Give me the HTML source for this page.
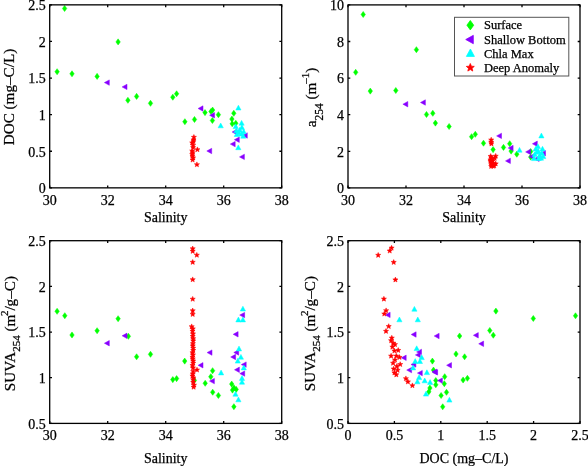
<!DOCTYPE html><html><head><meta charset="utf-8"><style>html,body{margin:0;padding:0;background:#fff;width:588px;height:466px;overflow:hidden}</style></head><body><svg width="588" height="466" viewBox="0 0 588 466" style="position:absolute;left:0;top:0;will-change:transform" font-family="'Liberation Serif', serif" font-size="14" stroke="#000" stroke-width="0.25">
<path d="M64.60 5.45L66.80 8.50L64.60 11.55L62.40 8.50Z" fill="#00ff00" stroke="#00ff00" stroke-width="0.5"/>
<path d="M118.10 38.85L120.30 41.90L118.10 44.95L115.90 41.90Z" fill="#00ff00" stroke="#00ff00" stroke-width="0.5"/>
<path d="M57.10 68.65L59.30 71.70L57.10 74.75L54.90 71.70Z" fill="#00ff00" stroke="#00ff00" stroke-width="0.5"/>
<path d="M72.00 70.75L74.20 73.80L72.00 76.85L69.80 73.80Z" fill="#00ff00" stroke="#00ff00" stroke-width="0.5"/>
<path d="M97.10 73.35L99.30 76.40L97.10 79.45L94.90 76.40Z" fill="#00ff00" stroke="#00ff00" stroke-width="0.5"/>
<path d="M127.90 97.25L130.10 100.30L127.90 103.35L125.70 100.30Z" fill="#00ff00" stroke="#00ff00" stroke-width="0.5"/>
<path d="M136.60 93.35L138.80 96.40L136.60 99.45L134.40 96.40Z" fill="#00ff00" stroke="#00ff00" stroke-width="0.5"/>
<path d="M150.50 100.25L152.70 103.30L150.50 106.35L148.30 103.30Z" fill="#00ff00" stroke="#00ff00" stroke-width="0.5"/>
<path d="M172.80 94.15L175.00 97.20L172.80 100.25L170.60 97.20Z" fill="#00ff00" stroke="#00ff00" stroke-width="0.5"/>
<path d="M176.60 90.75L178.80 93.80L176.60 96.85L174.40 93.80Z" fill="#00ff00" stroke="#00ff00" stroke-width="0.5"/>
<path d="M184.90 118.65L187.10 121.70L184.90 124.75L182.70 121.70Z" fill="#00ff00" stroke="#00ff00" stroke-width="0.5"/>
<path d="M194.50 116.45L196.70 119.50L194.50 122.55L192.30 119.50Z" fill="#00ff00" stroke="#00ff00" stroke-width="0.5"/>
<path d="M205.00 109.55L207.20 112.60L205.00 115.65L202.80 112.60Z" fill="#00ff00" stroke="#00ff00" stroke-width="0.5"/>
<path d="M211.00 108.45L213.20 111.50L211.00 114.55L208.80 111.50Z" fill="#00ff00" stroke="#00ff00" stroke-width="0.5"/>
<path d="M212.60 107.05L214.80 110.10L212.60 113.15L210.40 110.10Z" fill="#00ff00" stroke="#00ff00" stroke-width="0.5"/>
<path d="M218.40 111.65L220.60 114.70L218.40 117.75L216.20 114.70Z" fill="#00ff00" stroke="#00ff00" stroke-width="0.5"/>
<path d="M212.40 117.45L214.60 120.50L212.40 123.55L210.20 120.50Z" fill="#00ff00" stroke="#00ff00" stroke-width="0.5"/>
<path d="M233.80 110.25L236.00 113.30L233.80 116.35L231.60 113.30Z" fill="#00ff00" stroke="#00ff00" stroke-width="0.5"/>
<path d="M231.90 116.05L234.10 119.10L231.90 122.15L229.70 119.10Z" fill="#00ff00" stroke="#00ff00" stroke-width="0.5"/>
<path d="M232.20 120.75L234.40 123.80L232.20 126.85L230.00 123.80Z" fill="#00ff00" stroke="#00ff00" stroke-width="0.5"/>
<path d="M235.80 120.25L238.00 123.30L235.80 126.35L233.60 123.30Z" fill="#00ff00" stroke="#00ff00" stroke-width="0.5"/>
<path d="M104.40 82.60L109.30 79.90L109.30 85.30Z" fill="#8800ff" stroke="#8800ff" stroke-width="0.5"/>
<path d="M122.10 86.90L127.00 84.20L127.00 89.60Z" fill="#8800ff" stroke="#8800ff" stroke-width="0.5"/>
<path d="M198.10 108.50L203.00 105.80L203.00 111.20Z" fill="#8800ff" stroke="#8800ff" stroke-width="0.5"/>
<path d="M209.60 115.30L214.50 112.60L214.50 118.00Z" fill="#8800ff" stroke="#8800ff" stroke-width="0.5"/>
<path d="M206.80 151.00L211.70 148.30L211.70 153.70Z" fill="#8800ff" stroke="#8800ff" stroke-width="0.5"/>
<path d="M232.10 132.00L237.00 129.30L237.00 134.70Z" fill="#8800ff" stroke="#8800ff" stroke-width="0.5"/>
<path d="M242.40 135.50L247.30 132.80L247.30 138.20Z" fill="#8800ff" stroke="#8800ff" stroke-width="0.5"/>
<path d="M234.40 139.70L239.30 137.00L239.30 142.40Z" fill="#8800ff" stroke="#8800ff" stroke-width="0.5"/>
<path d="M230.30 144.10L235.20 141.40L235.20 146.80Z" fill="#8800ff" stroke="#8800ff" stroke-width="0.5"/>
<path d="M239.50 156.90L244.40 154.20L244.40 159.60Z" fill="#8800ff" stroke="#8800ff" stroke-width="0.5"/>
<path d="M220.70 123.00L223.30 127.80L218.10 127.80Z" fill="#00ffff" stroke="#00ffff" stroke-width="0.5"/>
<path d="M238.40 105.20L241.00 110.00L235.80 110.00Z" fill="#00ffff" stroke="#00ffff" stroke-width="0.5"/>
<path d="M241.60 120.40L244.20 125.20L239.00 125.20Z" fill="#00ffff" stroke="#00ffff" stroke-width="0.5"/>
<path d="M235.70 123.80L238.30 128.60L233.10 128.60Z" fill="#00ffff" stroke="#00ffff" stroke-width="0.5"/>
<path d="M241.90 124.80L244.50 129.60L239.30 129.60Z" fill="#00ffff" stroke="#00ffff" stroke-width="0.5"/>
<path d="M238.90 130.00L241.50 134.80L236.30 134.80Z" fill="#00ffff" stroke="#00ffff" stroke-width="0.5"/>
<path d="M236.80 131.70L239.40 136.50L234.20 136.50Z" fill="#00ffff" stroke="#00ffff" stroke-width="0.5"/>
<path d="M243.20 133.40L245.80 138.20L240.60 138.20Z" fill="#00ffff" stroke="#00ffff" stroke-width="0.5"/>
<path d="M241.50 131.30L244.10 136.10L238.90 136.10Z" fill="#00ffff" stroke="#00ffff" stroke-width="0.5"/>
<path d="M238.30 144.90L240.90 149.70L235.70 149.70Z" fill="#00ffff" stroke="#00ffff" stroke-width="0.5"/>
<path d="M239.70 127.30L242.30 132.10L237.10 132.10Z" fill="#00ffff" stroke="#00ffff" stroke-width="0.5"/>
<path d="M236.40 128.00L239.00 132.80L233.80 132.80Z" fill="#00ffff" stroke="#00ffff" stroke-width="0.5"/>
<path d="M243.70 129.00L246.30 133.80L241.10 133.80Z" fill="#00ffff" stroke="#00ffff" stroke-width="0.5"/>
<path d="M193.90 134.50L194.61 136.23L196.47 136.37L195.04 137.57L195.49 139.38L193.90 138.40L192.31 139.38L192.76 137.57L191.33 136.37L193.19 136.23Z" fill="#ff0000" stroke="#ff0000" stroke-width="0.5"/>
<path d="M193.50 137.10L194.21 138.83L196.07 138.97L194.64 140.17L195.09 141.98L193.50 141.00L191.91 141.98L192.36 140.17L190.93 138.97L192.79 138.83Z" fill="#ff0000" stroke="#ff0000" stroke-width="0.5"/>
<path d="M193.50 138.80L194.21 140.53L196.07 140.67L194.64 141.87L195.09 143.68L193.50 142.70L191.91 143.68L192.36 141.87L190.93 140.67L192.79 140.53Z" fill="#ff0000" stroke="#ff0000" stroke-width="0.5"/>
<path d="M192.20 140.10L192.91 141.83L194.77 141.97L193.34 143.17L193.79 144.98L192.20 144.00L190.61 144.98L191.06 143.17L189.63 141.97L191.49 141.83Z" fill="#ff0000" stroke="#ff0000" stroke-width="0.5"/>
<path d="M193.10 142.60L193.81 144.33L195.67 144.47L194.24 145.67L194.69 147.48L193.10 146.50L191.51 147.48L191.96 145.67L190.53 144.47L192.39 144.33Z" fill="#ff0000" stroke="#ff0000" stroke-width="0.5"/>
<path d="M193.10 144.80L193.81 146.53L195.67 146.67L194.24 147.87L194.69 149.68L193.10 148.70L191.51 149.68L191.96 147.87L190.53 146.67L192.39 146.53Z" fill="#ff0000" stroke="#ff0000" stroke-width="0.5"/>
<path d="M197.40 146.90L198.11 148.63L199.97 148.77L198.54 149.97L198.99 151.78L197.40 150.80L195.81 151.78L196.26 149.97L194.83 148.77L196.69 148.63Z" fill="#ff0000" stroke="#ff0000" stroke-width="0.5"/>
<path d="M192.20 148.20L192.91 149.93L194.77 150.07L193.34 151.27L193.79 153.08L192.20 152.10L190.61 153.08L191.06 151.27L189.63 150.07L191.49 149.93Z" fill="#ff0000" stroke="#ff0000" stroke-width="0.5"/>
<path d="M192.70 149.90L193.41 151.63L195.27 151.77L193.84 152.97L194.29 154.78L192.70 153.80L191.11 154.78L191.56 152.97L190.13 151.77L191.99 151.63Z" fill="#ff0000" stroke="#ff0000" stroke-width="0.5"/>
<path d="M192.20 151.60L192.91 153.33L194.77 153.47L193.34 154.67L193.79 156.48L192.20 155.50L190.61 156.48L191.06 154.67L189.63 153.47L191.49 153.33Z" fill="#ff0000" stroke="#ff0000" stroke-width="0.5"/>
<path d="M192.50 153.40L193.21 155.13L195.07 155.27L193.64 156.47L194.09 158.28L192.50 157.30L190.91 158.28L191.36 156.47L189.93 155.27L191.79 155.13Z" fill="#ff0000" stroke="#ff0000" stroke-width="0.5"/>
<path d="M193.10 155.10L193.81 156.83L195.67 156.97L194.24 158.17L194.69 159.98L193.10 159.00L191.51 159.98L191.96 158.17L190.53 156.97L192.39 156.83Z" fill="#ff0000" stroke="#ff0000" stroke-width="0.5"/>
<path d="M192.60 157.20L193.31 158.93L195.17 159.07L193.74 160.27L194.19 162.08L192.60 161.10L191.01 162.08L191.46 160.27L190.03 159.07L191.89 158.93Z" fill="#ff0000" stroke="#ff0000" stroke-width="0.5"/>
<path d="M196.90 161.90L197.61 163.63L199.47 163.77L198.04 164.97L198.49 166.78L196.90 165.80L195.31 166.78L195.76 164.97L194.33 163.77L196.19 163.63Z" fill="#ff0000" stroke="#ff0000" stroke-width="0.5"/>
<rect x="49.7" y="4.85" width="232.00" height="183.00" fill="none" stroke="#000" stroke-width="1.3"/>
<text x="49.70" y="204.85" text-anchor="middle">30</text>
<text x="107.70" y="204.85" text-anchor="middle">32</text>
<text x="165.70" y="204.85" text-anchor="middle">34</text>
<text x="223.70" y="204.85" text-anchor="middle">36</text>
<text x="281.70" y="204.85" text-anchor="middle">38</text>
<text x="45.70" y="193.15" text-anchor="end">0</text>
<text x="45.70" y="156.55" text-anchor="end">0.5</text>
<text x="45.70" y="119.95" text-anchor="end">1</text>
<text x="45.70" y="83.35" text-anchor="end">1.5</text>
<text x="45.70" y="46.75" text-anchor="end">2</text>
<text x="45.70" y="10.15" text-anchor="end">2.5</text>
<path d="M49.70 187.85V185.54999999999998M49.70 4.85V7.1499999999999995M107.70 187.85V185.54999999999998M107.70 4.85V7.1499999999999995M165.70 187.85V185.54999999999998M165.70 4.85V7.1499999999999995M223.70 187.85V185.54999999999998M223.70 4.85V7.1499999999999995M281.70 187.85V185.54999999999998M281.70 4.85V7.1499999999999995M49.7 187.85H52.0M281.7 187.85H279.4M49.7 151.25H52.0M281.7 151.25H279.4M49.7 114.65H52.0M281.7 114.65H279.4M49.7 78.05H52.0M281.7 78.05H279.4M49.7 41.45H52.0M281.7 41.45H279.4M49.7 4.85H52.0M281.7 4.85H279.4" stroke="#000" stroke-width="1.3" fill="none"/>
<path d="M363.20 11.45L365.40 14.50L363.20 17.55L361.00 14.50Z" fill="#00ff00" stroke="#00ff00" stroke-width="0.5"/>
<path d="M416.40 46.65L418.60 49.70L416.40 52.75L414.20 49.70Z" fill="#00ff00" stroke="#00ff00" stroke-width="0.5"/>
<path d="M355.70 69.25L357.90 72.30L355.70 75.35L353.50 72.30Z" fill="#00ff00" stroke="#00ff00" stroke-width="0.5"/>
<path d="M370.30 88.05L372.50 91.10L370.30 94.15L368.10 91.10Z" fill="#00ff00" stroke="#00ff00" stroke-width="0.5"/>
<path d="M395.80 87.45L398.00 90.50L395.80 93.55L393.60 90.50Z" fill="#00ff00" stroke="#00ff00" stroke-width="0.5"/>
<path d="M426.50 111.45L428.70 114.50L426.50 117.55L424.30 114.50Z" fill="#00ff00" stroke="#00ff00" stroke-width="0.5"/>
<path d="M432.80 110.25L435.00 113.30L432.80 116.35L430.60 113.30Z" fill="#00ff00" stroke="#00ff00" stroke-width="0.5"/>
<path d="M435.40 120.05L437.60 123.10L435.40 126.15L433.20 123.10Z" fill="#00ff00" stroke="#00ff00" stroke-width="0.5"/>
<path d="M449.10 123.45L451.30 126.50L449.10 129.55L446.90 126.50Z" fill="#00ff00" stroke="#00ff00" stroke-width="0.5"/>
<path d="M471.60 133.65L473.80 136.70L471.60 139.75L469.40 136.70Z" fill="#00ff00" stroke="#00ff00" stroke-width="0.5"/>
<path d="M475.30 131.25L477.50 134.30L475.30 137.35L473.10 134.30Z" fill="#00ff00" stroke="#00ff00" stroke-width="0.5"/>
<path d="M483.50 140.15L485.70 143.20L483.50 146.25L481.30 143.20Z" fill="#00ff00" stroke="#00ff00" stroke-width="0.5"/>
<path d="M493.10 146.55L495.30 149.60L493.10 152.65L490.90 149.60Z" fill="#00ff00" stroke="#00ff00" stroke-width="0.5"/>
<path d="M503.50 144.35L505.70 147.40L503.50 150.45L501.30 147.40Z" fill="#00ff00" stroke="#00ff00" stroke-width="0.5"/>
<path d="M509.70 140.65L511.90 143.70L509.70 146.75L507.50 143.70Z" fill="#00ff00" stroke="#00ff00" stroke-width="0.5"/>
<path d="M511.10 148.05L513.30 151.10L511.10 154.15L508.90 151.10Z" fill="#00ff00" stroke="#00ff00" stroke-width="0.5"/>
<path d="M516.80 151.15L519.00 154.20L516.80 157.25L514.60 154.20Z" fill="#00ff00" stroke="#00ff00" stroke-width="0.5"/>
<path d="M530.70 148.45L532.90 151.50L530.70 154.55L528.50 151.50Z" fill="#00ff00" stroke="#00ff00" stroke-width="0.5"/>
<path d="M530.70 154.05L532.90 157.10L530.70 160.15L528.50 157.10Z" fill="#00ff00" stroke="#00ff00" stroke-width="0.5"/>
<path d="M402.90 104.20L407.80 101.50L407.80 106.90Z" fill="#8800ff" stroke="#8800ff" stroke-width="0.5"/>
<path d="M420.50 102.50L425.40 99.80L425.40 105.20Z" fill="#8800ff" stroke="#8800ff" stroke-width="0.5"/>
<path d="M496.60 135.90L501.50 133.20L501.50 138.60Z" fill="#8800ff" stroke="#8800ff" stroke-width="0.5"/>
<path d="M508.20 148.00L513.10 145.30L513.10 150.70Z" fill="#8800ff" stroke="#8800ff" stroke-width="0.5"/>
<path d="M505.50 160.90L510.40 158.20L510.40 163.60Z" fill="#8800ff" stroke="#8800ff" stroke-width="0.5"/>
<path d="M532.40 143.80L537.30 141.10L537.30 146.50Z" fill="#8800ff" stroke="#8800ff" stroke-width="0.5"/>
<path d="M525.60 151.90L530.50 149.20L530.50 154.60Z" fill="#8800ff" stroke="#8800ff" stroke-width="0.5"/>
<path d="M540.60 153.20L545.50 150.50L545.50 155.90Z" fill="#8800ff" stroke="#8800ff" stroke-width="0.5"/>
<path d="M529.00 156.60L533.90 153.90L533.90 159.30Z" fill="#8800ff" stroke="#8800ff" stroke-width="0.5"/>
<path d="M534.20 158.80L539.10 156.10L539.10 161.50Z" fill="#8800ff" stroke="#8800ff" stroke-width="0.5"/>
<path d="M541.40 133.10L544.00 137.90L538.80 137.90Z" fill="#00ffff" stroke="#00ffff" stroke-width="0.5"/>
<path d="M519.50 147.40L522.10 152.20L516.90 152.20Z" fill="#00ffff" stroke="#00ffff" stroke-width="0.5"/>
<path d="M537.90 143.80L540.50 148.60L535.30 148.60Z" fill="#00ffff" stroke="#00ffff" stroke-width="0.5"/>
<path d="M536.70 149.40L539.30 154.20L534.10 154.20Z" fill="#00ffff" stroke="#00ffff" stroke-width="0.5"/>
<path d="M539.70 152.80L542.30 157.60L537.10 157.60Z" fill="#00ffff" stroke="#00ffff" stroke-width="0.5"/>
<path d="M541.80 150.30L544.40 155.10L539.20 155.10Z" fill="#00ffff" stroke="#00ffff" stroke-width="0.5"/>
<path d="M534.10 155.80L536.70 160.60L531.50 160.60Z" fill="#00ffff" stroke="#00ffff" stroke-width="0.5"/>
<path d="M541.00 155.40L543.60 160.20L538.40 160.20Z" fill="#00ffff" stroke="#00ffff" stroke-width="0.5"/>
<path d="M535.70 146.30L538.30 151.10L533.10 151.10Z" fill="#00ffff" stroke="#00ffff" stroke-width="0.5"/>
<path d="M538.20 148.30L540.80 153.10L535.60 153.10Z" fill="#00ffff" stroke="#00ffff" stroke-width="0.5"/>
<path d="M534.70 151.80L537.30 156.60L532.10 156.60Z" fill="#00ffff" stroke="#00ffff" stroke-width="0.5"/>
<path d="M542.50 146.30L545.10 151.10L539.90 151.10Z" fill="#00ffff" stroke="#00ffff" stroke-width="0.5"/>
<path d="M538.70 155.60L541.30 160.40L536.10 160.40Z" fill="#00ffff" stroke="#00ffff" stroke-width="0.5"/>
<path d="M543.20 153.80L545.80 158.60L540.60 158.60Z" fill="#00ffff" stroke="#00ffff" stroke-width="0.5"/>
<path d="M491.20 137.20L491.91 138.93L493.77 139.07L492.34 140.27L492.79 142.08L491.20 141.10L489.61 142.08L490.06 140.27L488.63 139.07L490.49 138.93Z" fill="#ff0000" stroke="#ff0000" stroke-width="0.5"/>
<path d="M491.20 139.40L491.91 141.13L493.77 141.27L492.34 142.47L492.79 144.28L491.20 143.30L489.61 144.28L490.06 142.47L488.63 141.27L490.49 141.13Z" fill="#ff0000" stroke="#ff0000" stroke-width="0.5"/>
<path d="M491.40 141.00L492.11 142.73L493.97 142.87L492.54 144.07L492.99 145.88L491.40 144.90L489.81 145.88L490.26 144.07L488.83 142.87L490.69 142.73Z" fill="#ff0000" stroke="#ff0000" stroke-width="0.5"/>
<path d="M495.70 153.40L496.41 155.13L498.27 155.27L496.84 156.47L497.29 158.28L495.70 157.30L494.11 158.28L494.56 156.47L493.13 155.27L494.99 155.13Z" fill="#ff0000" stroke="#ff0000" stroke-width="0.5"/>
<path d="M491.40 155.10L492.11 156.83L493.97 156.97L492.54 158.17L492.99 159.98L491.40 159.00L489.81 159.98L490.26 158.17L488.83 156.97L490.69 156.83Z" fill="#ff0000" stroke="#ff0000" stroke-width="0.5"/>
<path d="M490.50 157.10L491.21 158.83L493.07 158.97L491.64 160.17L492.09 161.98L490.50 161.00L488.91 161.98L489.36 160.17L487.93 158.97L489.79 158.83Z" fill="#ff0000" stroke="#ff0000" stroke-width="0.5"/>
<path d="M490.50 158.50L491.21 160.23L493.07 160.37L491.64 161.57L492.09 163.38L490.50 162.40L488.91 163.38L489.36 161.57L487.93 160.37L489.79 160.23Z" fill="#ff0000" stroke="#ff0000" stroke-width="0.5"/>
<path d="M491.20 160.10L491.91 161.83L493.77 161.97L492.34 163.17L492.79 164.98L491.20 164.00L489.61 164.98L490.06 163.17L488.63 161.97L490.49 161.83Z" fill="#ff0000" stroke="#ff0000" stroke-width="0.5"/>
<path d="M491.40 161.90L492.11 163.63L493.97 163.77L492.54 164.97L492.99 166.78L491.40 165.80L489.81 166.78L490.26 164.97L488.83 163.77L490.69 163.63Z" fill="#ff0000" stroke="#ff0000" stroke-width="0.5"/>
<path d="M495.70 161.10L496.41 162.83L498.27 162.97L496.84 164.17L497.29 165.98L495.70 165.00L494.11 165.98L494.56 164.17L493.13 162.97L494.99 162.83Z" fill="#ff0000" stroke="#ff0000" stroke-width="0.5"/>
<path d="M493.10 163.40L493.81 165.13L495.67 165.27L494.24 166.47L494.69 168.28L493.10 167.30L491.51 168.28L491.96 166.47L490.53 165.27L492.39 165.13Z" fill="#ff0000" stroke="#ff0000" stroke-width="0.5"/>
<path d="M490.70 153.60L491.41 155.33L493.27 155.47L491.84 156.67L492.29 158.48L490.70 157.50L489.11 158.48L489.56 156.67L488.13 155.47L489.99 155.33Z" fill="#ff0000" stroke="#ff0000" stroke-width="0.5"/>
<path d="M492.20 156.10L492.91 157.83L494.77 157.97L493.34 159.17L493.79 160.98L492.20 160.00L490.61 160.98L491.06 159.17L489.63 157.97L491.49 157.83Z" fill="#ff0000" stroke="#ff0000" stroke-width="0.5"/>
<path d="M493.20 160.60L493.91 162.33L495.77 162.47L494.34 163.67L494.79 165.48L493.20 164.50L491.61 165.48L492.06 163.67L490.63 162.47L492.49 162.33Z" fill="#ff0000" stroke="#ff0000" stroke-width="0.5"/>
<path d="M491.20 163.60L491.91 165.33L493.77 165.47L492.34 166.67L492.79 168.48L491.20 167.50L489.61 168.48L490.06 166.67L488.63 165.47L490.49 165.33Z" fill="#ff0000" stroke="#ff0000" stroke-width="0.5"/>
<path d="M494.20 163.10L494.91 164.83L496.77 164.97L495.34 166.17L495.79 167.98L494.20 167.00L492.61 167.98L493.06 166.17L491.63 164.97L493.49 164.83Z" fill="#ff0000" stroke="#ff0000" stroke-width="0.5"/>
<path d="M492.70 158.10L493.41 159.83L495.27 159.97L493.84 161.17L494.29 162.98L492.70 162.00L491.11 162.98L491.56 161.17L490.13 159.97L491.99 159.83Z" fill="#ff0000" stroke="#ff0000" stroke-width="0.5"/>
<path d="M494.70 155.60L495.41 157.33L497.27 157.47L495.84 158.67L496.29 160.48L494.70 159.50L493.11 160.48L493.56 158.67L492.13 157.47L493.99 157.33Z" fill="#ff0000" stroke="#ff0000" stroke-width="0.5"/>
<rect x="348" y="4.9" width="232.00" height="183.00" fill="none" stroke="#000" stroke-width="1.3"/>
<text x="348.00" y="204.90" text-anchor="middle">30</text>
<text x="406.00" y="204.90" text-anchor="middle">32</text>
<text x="464.00" y="204.90" text-anchor="middle">34</text>
<text x="522.00" y="204.90" text-anchor="middle">36</text>
<text x="580.00" y="204.90" text-anchor="middle">38</text>
<text x="344.00" y="193.20" text-anchor="end">0</text>
<text x="344.00" y="156.60" text-anchor="end">2</text>
<text x="344.00" y="120.00" text-anchor="end">4</text>
<text x="344.00" y="83.40" text-anchor="end">6</text>
<text x="344.00" y="46.80" text-anchor="end">8</text>
<text x="344.00" y="10.20" text-anchor="end">10</text>
<path d="M348.00 187.9V185.6M348.00 4.9V7.2M406.00 187.9V185.6M406.00 4.9V7.2M464.00 187.9V185.6M464.00 4.9V7.2M522.00 187.9V185.6M522.00 4.9V7.2M580.00 187.9V185.6M580.00 4.9V7.2M348 187.90H350.3M580 187.90H577.7M348 151.30H350.3M580 151.30H577.7M348 114.70H350.3M580 114.70H577.7M348 78.10H350.3M580 78.10H577.7M348 41.50H350.3M580 41.50H577.7M348 4.90H350.3M580 4.90H577.7" stroke="#000" stroke-width="1.3" fill="none"/>
<path d="M57.10 308.25L59.30 311.30L57.10 314.35L54.90 311.30Z" fill="#00ff00" stroke="#00ff00" stroke-width="0.5"/>
<path d="M64.80 312.65L67.00 315.70L64.80 318.75L62.60 315.70Z" fill="#00ff00" stroke="#00ff00" stroke-width="0.5"/>
<path d="M72.00 331.95L74.20 335.00L72.00 338.05L69.80 335.00Z" fill="#00ff00" stroke="#00ff00" stroke-width="0.5"/>
<path d="M97.10 327.65L99.30 330.70L97.10 333.75L94.90 330.70Z" fill="#00ff00" stroke="#00ff00" stroke-width="0.5"/>
<path d="M118.10 315.65L120.30 318.70L118.10 321.75L115.90 318.70Z" fill="#00ff00" stroke="#00ff00" stroke-width="0.5"/>
<path d="M128.40 333.25L130.60 336.30L128.40 339.35L126.20 336.30Z" fill="#00ff00" stroke="#00ff00" stroke-width="0.5"/>
<path d="M136.60 353.75L138.80 356.80L136.60 359.85L134.40 356.80Z" fill="#00ff00" stroke="#00ff00" stroke-width="0.5"/>
<path d="M150.50 351.25L152.70 354.30L150.50 357.35L148.30 354.30Z" fill="#00ff00" stroke="#00ff00" stroke-width="0.5"/>
<path d="M184.70 358.05L186.90 361.10L184.70 364.15L182.50 361.10Z" fill="#00ff00" stroke="#00ff00" stroke-width="0.5"/>
<path d="M172.80 376.55L175.00 379.60L172.80 382.65L170.60 379.60Z" fill="#00ff00" stroke="#00ff00" stroke-width="0.5"/>
<path d="M176.60 375.55L178.80 378.60L176.60 381.65L174.40 378.60Z" fill="#00ff00" stroke="#00ff00" stroke-width="0.5"/>
<path d="M212.60 367.65L214.80 370.70L212.60 373.75L210.40 370.70Z" fill="#00ff00" stroke="#00ff00" stroke-width="0.5"/>
<path d="M210.80 373.65L213.00 376.70L210.80 379.75L208.60 376.70Z" fill="#00ff00" stroke="#00ff00" stroke-width="0.5"/>
<path d="M205.20 380.25L207.40 383.30L205.20 386.35L203.00 383.30Z" fill="#00ff00" stroke="#00ff00" stroke-width="0.5"/>
<path d="M194.40 377.35L196.60 380.40L194.40 383.45L192.20 380.40Z" fill="#00ff00" stroke="#00ff00" stroke-width="0.5"/>
<path d="M212.70 389.15L214.90 392.20L212.70 395.25L210.50 392.20Z" fill="#00ff00" stroke="#00ff00" stroke-width="0.5"/>
<path d="M218.40 392.45L220.60 395.50L218.40 398.55L216.20 395.50Z" fill="#00ff00" stroke="#00ff00" stroke-width="0.5"/>
<path d="M231.70 381.05L233.90 384.10L231.70 387.15L229.50 384.10Z" fill="#00ff00" stroke="#00ff00" stroke-width="0.5"/>
<path d="M234.00 384.85L236.20 387.90L234.00 390.95L231.80 387.90Z" fill="#00ff00" stroke="#00ff00" stroke-width="0.5"/>
<path d="M236.20 386.35L238.40 389.40L236.20 392.45L234.00 389.40Z" fill="#00ff00" stroke="#00ff00" stroke-width="0.5"/>
<path d="M232.50 387.05L234.70 390.10L232.50 393.15L230.30 390.10Z" fill="#00ff00" stroke="#00ff00" stroke-width="0.5"/>
<path d="M233.90 403.65L236.10 406.70L233.90 409.75L231.70 406.70Z" fill="#00ff00" stroke="#00ff00" stroke-width="0.5"/>
<path d="M104.40 343.20L109.30 340.50L109.30 345.90Z" fill="#8800ff" stroke="#8800ff" stroke-width="0.5"/>
<path d="M122.10 335.80L127.00 333.10L127.00 338.50Z" fill="#8800ff" stroke="#8800ff" stroke-width="0.5"/>
<path d="M207.10 352.60L212.00 349.90L212.00 355.30Z" fill="#8800ff" stroke="#8800ff" stroke-width="0.5"/>
<path d="M198.10 365.30L203.00 362.60L203.00 368.00Z" fill="#8800ff" stroke="#8800ff" stroke-width="0.5"/>
<path d="M209.50 381.10L214.40 378.40L214.40 383.80Z" fill="#8800ff" stroke="#8800ff" stroke-width="0.5"/>
<path d="M233.20 334.30L238.10 331.60L238.10 337.00Z" fill="#8800ff" stroke="#8800ff" stroke-width="0.5"/>
<path d="M239.70 315.10L244.60 312.40L244.60 317.80Z" fill="#8800ff" stroke="#8800ff" stroke-width="0.5"/>
<path d="M233.80 352.50L238.70 349.80L238.70 355.20Z" fill="#8800ff" stroke="#8800ff" stroke-width="0.5"/>
<path d="M230.70 357.00L235.60 354.30L235.60 359.70Z" fill="#8800ff" stroke="#8800ff" stroke-width="0.5"/>
<path d="M241.30 364.60L246.20 361.90L246.20 367.30Z" fill="#8800ff" stroke="#8800ff" stroke-width="0.5"/>
<path d="M234.50 369.80L239.40 367.10L239.40 372.50Z" fill="#8800ff" stroke="#8800ff" stroke-width="0.5"/>
<path d="M239.80 373.60L244.70 370.90L244.70 376.30Z" fill="#8800ff" stroke="#8800ff" stroke-width="0.5"/>
<path d="M221.10 370.10L223.70 374.90L218.50 374.90Z" fill="#00ffff" stroke="#00ffff" stroke-width="0.5"/>
<path d="M242.90 306.20L245.50 311.00L240.30 311.00Z" fill="#00ffff" stroke="#00ffff" stroke-width="0.5"/>
<path d="M238.40 317.10L241.00 321.90L235.80 321.90Z" fill="#00ffff" stroke="#00ffff" stroke-width="0.5"/>
<path d="M242.90 317.10L245.50 321.90L240.30 321.90Z" fill="#00ffff" stroke="#00ffff" stroke-width="0.5"/>
<path d="M239.00 346.10L241.60 350.90L236.40 350.90Z" fill="#00ffff" stroke="#00ffff" stroke-width="0.5"/>
<path d="M240.90 354.40L243.50 359.20L238.30 359.20Z" fill="#00ffff" stroke="#00ffff" stroke-width="0.5"/>
<path d="M237.80 358.30L240.40 363.10L235.20 363.10Z" fill="#00ffff" stroke="#00ffff" stroke-width="0.5"/>
<path d="M243.80 365.10L246.40 369.90L241.20 369.90Z" fill="#00ffff" stroke="#00ffff" stroke-width="0.5"/>
<path d="M242.00 375.60L244.60 380.40L239.40 380.40Z" fill="#00ffff" stroke="#00ffff" stroke-width="0.5"/>
<path d="M242.00 379.40L244.60 384.20L239.40 384.20Z" fill="#00ffff" stroke="#00ffff" stroke-width="0.5"/>
<path d="M235.50 391.40L238.10 396.20L232.90 396.20Z" fill="#00ffff" stroke="#00ffff" stroke-width="0.5"/>
<path d="M238.40 397.00L241.00 401.80L235.80 401.80Z" fill="#00ffff" stroke="#00ffff" stroke-width="0.5"/>
<path d="M192.70 246.00L193.41 247.73L195.27 247.87L193.84 249.07L194.29 250.88L192.70 249.90L191.11 250.88L191.56 249.07L190.13 247.87L191.99 247.73Z" fill="#ff0000" stroke="#ff0000" stroke-width="0.5"/>
<path d="M192.70 248.50L193.41 250.23L195.27 250.37L193.84 251.57L194.29 253.38L192.70 252.40L191.11 253.38L191.56 251.57L190.13 250.37L191.99 250.23Z" fill="#ff0000" stroke="#ff0000" stroke-width="0.5"/>
<path d="M196.80 252.40L197.51 254.13L199.37 254.27L197.94 255.47L198.39 257.28L196.80 256.30L195.21 257.28L195.66 255.47L194.23 254.27L196.09 254.13Z" fill="#ff0000" stroke="#ff0000" stroke-width="0.5"/>
<path d="M192.70 259.50L193.41 261.23L195.27 261.37L193.84 262.57L194.29 264.38L192.70 263.40L191.11 264.38L191.56 262.57L190.13 261.37L191.99 261.23Z" fill="#ff0000" stroke="#ff0000" stroke-width="0.5"/>
<path d="M192.70 276.90L193.41 278.63L195.27 278.77L193.84 279.97L194.29 281.78L192.70 280.80L191.11 281.78L191.56 279.97L190.13 278.77L191.99 278.63Z" fill="#ff0000" stroke="#ff0000" stroke-width="0.5"/>
<path d="M192.70 296.40L193.41 298.13L195.27 298.27L193.84 299.47L194.29 301.28L192.70 300.30L191.11 301.28L191.56 299.47L190.13 298.27L191.99 298.13Z" fill="#ff0000" stroke="#ff0000" stroke-width="0.5"/>
<path d="M192.70 308.00L193.41 309.73L195.27 309.87L193.84 311.07L194.29 312.88L192.70 311.90L191.11 312.88L191.56 311.07L190.13 309.87L191.99 309.73Z" fill="#ff0000" stroke="#ff0000" stroke-width="0.5"/>
<path d="M192.70 311.60L193.41 313.33L195.27 313.47L193.84 314.67L194.29 316.48L192.70 315.50L191.11 316.48L191.56 314.67L190.13 313.47L191.99 313.33Z" fill="#ff0000" stroke="#ff0000" stroke-width="0.5"/>
<path d="M191.70 323.90L192.41 325.63L194.27 325.77L192.84 326.97L193.29 328.78L191.70 327.80L190.11 328.78L190.56 326.97L189.13 325.77L190.99 325.63Z" fill="#ff0000" stroke="#ff0000" stroke-width="0.5"/>
<path d="M192.50 328.40L193.21 330.13L195.07 330.27L193.64 331.47L194.09 333.28L192.50 332.30L190.91 333.28L191.36 331.47L189.93 330.27L191.79 330.13Z" fill="#ff0000" stroke="#ff0000" stroke-width="0.5"/>
<path d="M193.20 335.90L193.91 337.63L195.77 337.77L194.34 338.97L194.79 340.78L193.20 339.80L191.61 340.78L192.06 338.97L190.63 337.77L192.49 337.63Z" fill="#ff0000" stroke="#ff0000" stroke-width="0.5"/>
<path d="M192.90 340.90L193.61 342.63L195.47 342.77L194.04 343.97L194.49 345.78L192.90 344.80L191.31 345.78L191.76 343.97L190.33 342.77L192.19 342.63Z" fill="#ff0000" stroke="#ff0000" stroke-width="0.5"/>
<path d="M193.20 345.40L193.91 347.13L195.77 347.27L194.34 348.47L194.79 350.28L193.20 349.30L191.61 350.28L192.06 348.47L190.63 347.27L192.49 347.13Z" fill="#ff0000" stroke="#ff0000" stroke-width="0.5"/>
<path d="M192.50 349.90L193.21 351.63L195.07 351.77L193.64 352.97L194.09 354.78L192.50 353.80L190.91 354.78L191.36 352.97L189.93 351.77L191.79 351.63Z" fill="#ff0000" stroke="#ff0000" stroke-width="0.5"/>
<path d="M192.50 354.40L193.21 356.13L195.07 356.27L193.64 357.47L194.09 359.28L192.50 358.30L190.91 359.28L191.36 357.47L189.93 356.27L191.79 356.13Z" fill="#ff0000" stroke="#ff0000" stroke-width="0.5"/>
<path d="M193.20 358.20L193.91 359.93L195.77 360.07L194.34 361.27L194.79 363.08L193.20 362.10L191.61 363.08L192.06 361.27L190.63 360.07L192.49 359.93Z" fill="#ff0000" stroke="#ff0000" stroke-width="0.5"/>
<path d="M192.50 362.70L193.21 364.43L195.07 364.57L193.64 365.77L194.09 367.58L192.50 366.60L190.91 367.58L191.36 365.77L189.93 364.57L191.79 364.43Z" fill="#ff0000" stroke="#ff0000" stroke-width="0.5"/>
<path d="M197.00 367.20L197.71 368.93L199.57 369.07L198.14 370.27L198.59 372.08L197.00 371.10L195.41 372.08L195.86 370.27L194.43 369.07L196.29 368.93Z" fill="#ff0000" stroke="#ff0000" stroke-width="0.5"/>
<path d="M193.20 368.70L193.91 370.43L195.77 370.57L194.34 371.77L194.79 373.58L193.20 372.60L191.61 373.58L192.06 371.77L190.63 370.57L192.49 370.43Z" fill="#ff0000" stroke="#ff0000" stroke-width="0.5"/>
<path d="M192.50 373.20L193.21 374.93L195.07 375.07L193.64 376.27L194.09 378.08L192.50 377.10L190.91 378.08L191.36 376.27L189.93 375.07L191.79 374.93Z" fill="#ff0000" stroke="#ff0000" stroke-width="0.5"/>
<path d="M193.20 377.00L193.91 378.73L195.77 378.87L194.34 380.07L194.79 381.88L193.20 380.90L191.61 381.88L192.06 380.07L190.63 378.87L192.49 378.73Z" fill="#ff0000" stroke="#ff0000" stroke-width="0.5"/>
<path d="M194.00 382.30L194.71 384.03L196.57 384.17L195.14 385.37L195.59 387.18L194.00 386.20L192.41 387.18L192.86 385.37L191.43 384.17L193.29 384.03Z" fill="#ff0000" stroke="#ff0000" stroke-width="0.5"/>
<path d="M193.20 379.60L193.91 381.33L195.77 381.47L194.34 382.67L194.79 384.48L193.20 383.50L191.61 384.48L192.06 382.67L190.63 381.47L192.49 381.33Z" fill="#ff0000" stroke="#ff0000" stroke-width="0.5"/>
<path d="M192.80 326.10L193.51 327.83L195.37 327.97L193.94 329.17L194.39 330.98L192.80 330.00L191.21 330.98L191.66 329.17L190.23 327.97L192.09 327.83Z" fill="#ff0000" stroke="#ff0000" stroke-width="0.5"/>
<path d="M193.00 331.10L193.71 332.83L195.57 332.97L194.14 334.17L194.59 335.98L193.00 335.00L191.41 335.98L191.86 334.17L190.43 332.97L192.29 332.83Z" fill="#ff0000" stroke="#ff0000" stroke-width="0.5"/>
<path d="M192.70 333.60L193.41 335.33L195.27 335.47L193.84 336.67L194.29 338.48L192.70 337.50L191.11 338.48L191.56 336.67L190.13 335.47L191.99 335.33Z" fill="#ff0000" stroke="#ff0000" stroke-width="0.5"/>
<path d="M193.20 338.10L193.91 339.83L195.77 339.97L194.34 341.17L194.79 342.98L193.20 342.00L191.61 342.98L192.06 341.17L190.63 339.97L192.49 339.83Z" fill="#ff0000" stroke="#ff0000" stroke-width="0.5"/>
<path d="M192.80 343.10L193.51 344.83L195.37 344.97L193.94 346.17L194.39 347.98L192.80 347.00L191.21 347.98L191.66 346.17L190.23 344.97L192.09 344.83Z" fill="#ff0000" stroke="#ff0000" stroke-width="0.5"/>
<path d="M193.20 347.60L193.91 349.33L195.77 349.47L194.34 350.67L194.79 352.48L193.20 351.50L191.61 352.48L192.06 350.67L190.63 349.47L192.49 349.33Z" fill="#ff0000" stroke="#ff0000" stroke-width="0.5"/>
<path d="M193.00 352.10L193.71 353.83L195.57 353.97L194.14 355.17L194.59 356.98L193.00 356.00L191.41 356.98L191.86 355.17L190.43 353.97L192.29 353.83Z" fill="#ff0000" stroke="#ff0000" stroke-width="0.5"/>
<path d="M192.80 356.10L193.51 357.83L195.37 357.97L193.94 359.17L194.39 360.98L192.80 360.00L191.21 360.98L191.66 359.17L190.23 357.97L192.09 357.83Z" fill="#ff0000" stroke="#ff0000" stroke-width="0.5"/>
<path d="M193.20 360.40L193.91 362.13L195.77 362.27L194.34 363.47L194.79 365.28L193.20 364.30L191.61 365.28L192.06 363.47L190.63 362.27L192.49 362.13Z" fill="#ff0000" stroke="#ff0000" stroke-width="0.5"/>
<path d="M193.00 365.10L193.71 366.83L195.57 366.97L194.14 368.17L194.59 369.98L193.00 369.00L191.41 369.98L191.86 368.17L190.43 366.97L192.29 366.83Z" fill="#ff0000" stroke="#ff0000" stroke-width="0.5"/>
<path d="M192.80 371.10L193.51 372.83L195.37 372.97L193.94 374.17L194.39 375.98L192.80 375.00L191.21 375.98L191.66 374.17L190.23 372.97L192.09 372.83Z" fill="#ff0000" stroke="#ff0000" stroke-width="0.5"/>
<path d="M193.40 375.10L194.11 376.83L195.97 376.97L194.54 378.17L194.99 379.98L193.40 379.00L191.81 379.98L192.26 378.17L190.83 376.97L192.69 376.83Z" fill="#ff0000" stroke="#ff0000" stroke-width="0.5"/>
<path d="M193.60 384.40L194.31 386.13L196.17 386.27L194.74 387.47L195.19 389.28L193.60 388.30L192.01 389.28L192.46 387.47L191.03 386.27L192.89 386.13Z" fill="#ff0000" stroke="#ff0000" stroke-width="0.5"/>
<rect x="49.7" y="240.7" width="232.00" height="182.70" fill="none" stroke="#000" stroke-width="1.3"/>
<text x="49.70" y="440.40" text-anchor="middle">30</text>
<text x="107.70" y="440.40" text-anchor="middle">32</text>
<text x="165.70" y="440.40" text-anchor="middle">34</text>
<text x="223.70" y="440.40" text-anchor="middle">36</text>
<text x="281.70" y="440.40" text-anchor="middle">38</text>
<text x="45.70" y="428.70" text-anchor="end">0.5</text>
<text x="45.70" y="383.02" text-anchor="end">1</text>
<text x="45.70" y="337.35" text-anchor="end">1.5</text>
<text x="45.70" y="291.68" text-anchor="end">2</text>
<text x="45.70" y="246.00" text-anchor="end">2.5</text>
<path d="M49.70 423.4V421.09999999999997M49.70 240.7V243.0M107.70 423.4V421.09999999999997M107.70 240.7V243.0M165.70 423.4V421.09999999999997M165.70 240.7V243.0M223.70 423.4V421.09999999999997M223.70 240.7V243.0M281.70 423.4V421.09999999999997M281.70 240.7V243.0M49.7 423.40H52.0M281.7 423.40H279.4M49.7 377.72H52.0M281.7 377.72H279.4M49.7 332.05H52.0M281.7 332.05H279.4M49.7 286.38H52.0M281.7 286.38H279.4M49.7 240.70H52.0M281.7 240.70H279.4" stroke="#000" stroke-width="1.3" fill="none"/>
<path d="M495.90 308.05L498.10 311.10L495.90 314.15L493.70 311.10Z" fill="#00ff00" stroke="#00ff00" stroke-width="0.5"/>
<path d="M533.30 315.45L535.50 318.50L533.30 321.55L531.10 318.50Z" fill="#00ff00" stroke="#00ff00" stroke-width="0.5"/>
<path d="M575.50 312.75L577.70 315.80L575.50 318.85L573.30 315.80Z" fill="#00ff00" stroke="#00ff00" stroke-width="0.5"/>
<path d="M489.80 327.45L492.00 330.50L489.80 333.55L487.60 330.50Z" fill="#00ff00" stroke="#00ff00" stroke-width="0.5"/>
<path d="M493.30 332.15L495.50 335.20L493.30 338.25L491.10 335.20Z" fill="#00ff00" stroke="#00ff00" stroke-width="0.5"/>
<path d="M459.60 332.95L461.80 336.00L459.60 339.05L457.40 336.00Z" fill="#00ff00" stroke="#00ff00" stroke-width="0.5"/>
<path d="M456.00 350.95L458.20 354.00L456.00 357.05L453.80 354.00Z" fill="#00ff00" stroke="#00ff00" stroke-width="0.5"/>
<path d="M464.60 353.75L466.80 356.80L464.60 359.85L462.40 356.80Z" fill="#00ff00" stroke="#00ff00" stroke-width="0.5"/>
<path d="M432.40 358.05L434.60 361.10L432.40 364.15L430.20 361.10Z" fill="#00ff00" stroke="#00ff00" stroke-width="0.5"/>
<path d="M433.50 367.05L435.70 370.10L433.50 373.15L431.30 370.10Z" fill="#00ff00" stroke="#00ff00" stroke-width="0.5"/>
<path d="M444.70 373.65L446.90 376.70L444.70 379.75L442.50 376.70Z" fill="#00ff00" stroke="#00ff00" stroke-width="0.5"/>
<path d="M435.80 377.45L438.00 380.50L435.80 383.55L433.60 380.50Z" fill="#00ff00" stroke="#00ff00" stroke-width="0.5"/>
<path d="M444.30 380.65L446.50 383.70L444.30 386.75L442.10 383.70Z" fill="#00ff00" stroke="#00ff00" stroke-width="0.5"/>
<path d="M435.80 381.75L438.00 384.80L435.80 387.85L433.60 384.80Z" fill="#00ff00" stroke="#00ff00" stroke-width="0.5"/>
<path d="M429.90 384.95L432.10 388.00L429.90 391.05L427.70 388.00Z" fill="#00ff00" stroke="#00ff00" stroke-width="0.5"/>
<path d="M428.80 388.75L431.00 391.80L428.80 394.85L426.60 391.80Z" fill="#00ff00" stroke="#00ff00" stroke-width="0.5"/>
<path d="M446.50 389.25L448.70 392.30L446.50 395.35L444.30 392.30Z" fill="#00ff00" stroke="#00ff00" stroke-width="0.5"/>
<path d="M441.10 392.45L443.30 395.50L441.10 398.55L438.90 395.50Z" fill="#00ff00" stroke="#00ff00" stroke-width="0.5"/>
<path d="M442.70 403.75L444.90 406.80L442.70 409.85L440.50 406.80Z" fill="#00ff00" stroke="#00ff00" stroke-width="0.5"/>
<path d="M463.10 376.95L465.30 380.00L463.10 383.05L460.90 380.00Z" fill="#00ff00" stroke="#00ff00" stroke-width="0.5"/>
<path d="M467.40 375.25L469.60 378.30L467.40 381.35L465.20 378.30Z" fill="#00ff00" stroke="#00ff00" stroke-width="0.5"/>
<path d="M385.20 314.90L390.10 312.20L390.10 317.60Z" fill="#8800ff" stroke="#8800ff" stroke-width="0.5"/>
<path d="M411.20 334.50L416.10 331.80L416.10 337.20Z" fill="#8800ff" stroke="#8800ff" stroke-width="0.5"/>
<path d="M401.30 357.80L406.20 355.10L406.20 360.50Z" fill="#8800ff" stroke="#8800ff" stroke-width="0.5"/>
<path d="M416.60 351.90L421.50 349.20L421.50 354.60Z" fill="#8800ff" stroke="#8800ff" stroke-width="0.5"/>
<path d="M415.40 354.90L420.30 352.20L420.30 357.60Z" fill="#8800ff" stroke="#8800ff" stroke-width="0.5"/>
<path d="M411.00 364.50L415.90 361.80L415.90 367.20Z" fill="#8800ff" stroke="#8800ff" stroke-width="0.5"/>
<path d="M406.70 370.10L411.60 367.40L411.60 372.80Z" fill="#8800ff" stroke="#8800ff" stroke-width="0.5"/>
<path d="M417.40 373.10L422.30 370.40L422.30 375.80Z" fill="#8800ff" stroke="#8800ff" stroke-width="0.5"/>
<path d="M434.20 336.00L439.10 333.30L439.10 338.70Z" fill="#8800ff" stroke="#8800ff" stroke-width="0.5"/>
<path d="M473.40 335.30L478.30 332.60L478.30 338.00Z" fill="#8800ff" stroke="#8800ff" stroke-width="0.5"/>
<path d="M446.60 365.30L451.50 362.60L451.50 368.00Z" fill="#8800ff" stroke="#8800ff" stroke-width="0.5"/>
<path d="M432.00 371.80L436.90 369.10L436.90 374.50Z" fill="#8800ff" stroke="#8800ff" stroke-width="0.5"/>
<path d="M437.50 380.60L442.40 377.90L442.40 383.30Z" fill="#8800ff" stroke="#8800ff" stroke-width="0.5"/>
<path d="M432.70 372.40L437.60 369.70L437.60 375.10Z" fill="#8800ff" stroke="#8800ff" stroke-width="0.5"/>
<path d="M478.70 343.80L483.60 341.10L483.60 346.50Z" fill="#8800ff" stroke="#8800ff" stroke-width="0.5"/>
<path d="M414.40 306.40L417.00 311.20L411.80 311.20Z" fill="#00ffff" stroke="#00ffff" stroke-width="0.5"/>
<path d="M399.40 317.00L402.00 321.80L396.80 321.80Z" fill="#00ffff" stroke="#00ffff" stroke-width="0.5"/>
<path d="M417.80 317.00L420.40 321.80L415.20 321.80Z" fill="#00ffff" stroke="#00ffff" stroke-width="0.5"/>
<path d="M416.70 345.80L419.30 350.60L414.10 350.60Z" fill="#00ffff" stroke="#00ffff" stroke-width="0.5"/>
<path d="M421.70 354.80L424.30 359.60L419.10 359.60Z" fill="#00ffff" stroke="#00ffff" stroke-width="0.5"/>
<path d="M415.20 358.60L417.80 363.40L412.60 363.40Z" fill="#00ffff" stroke="#00ffff" stroke-width="0.5"/>
<path d="M419.90 358.70L422.50 363.50L417.30 363.50Z" fill="#00ffff" stroke="#00ffff" stroke-width="0.5"/>
<path d="M413.10 365.10L415.70 369.90L410.50 369.90Z" fill="#00ffff" stroke="#00ffff" stroke-width="0.5"/>
<path d="M426.90 369.80L429.50 374.60L424.30 374.60Z" fill="#00ffff" stroke="#00ffff" stroke-width="0.5"/>
<path d="M419.10 374.80L421.70 379.60L416.50 379.60Z" fill="#00ffff" stroke="#00ffff" stroke-width="0.5"/>
<path d="M424.70 378.00L427.30 382.80L422.10 382.80Z" fill="#00ffff" stroke="#00ffff" stroke-width="0.5"/>
<path d="M417.40 379.00L420.00 383.80L414.80 383.80Z" fill="#00ffff" stroke="#00ffff" stroke-width="0.5"/>
<path d="M430.10 379.60L432.70 384.40L427.50 384.40Z" fill="#00ffff" stroke="#00ffff" stroke-width="0.5"/>
<path d="M426.00 391.30L428.60 396.10L423.40 396.10Z" fill="#00ffff" stroke="#00ffff" stroke-width="0.5"/>
<path d="M449.40 397.30L452.00 402.10L446.80 402.10Z" fill="#00ffff" stroke="#00ffff" stroke-width="0.5"/>
<path d="M391.60 245.30L392.31 247.03L394.17 247.17L392.74 248.37L393.19 250.18L391.60 249.20L390.01 250.18L390.46 248.37L389.03 247.17L390.89 247.03Z" fill="#ff0000" stroke="#ff0000" stroke-width="0.5"/>
<path d="M389.70 248.20L390.41 249.93L392.27 250.07L390.84 251.27L391.29 253.08L389.70 252.10L388.11 253.08L388.56 251.27L387.13 250.07L388.99 249.93Z" fill="#ff0000" stroke="#ff0000" stroke-width="0.5"/>
<path d="M378.20 252.50L378.91 254.23L380.77 254.37L379.34 255.57L379.79 257.38L378.20 256.40L376.61 257.38L377.06 255.57L375.63 254.37L377.49 254.23Z" fill="#ff0000" stroke="#ff0000" stroke-width="0.5"/>
<path d="M393.70 259.60L394.41 261.33L396.27 261.47L394.84 262.67L395.29 264.48L393.70 263.50L392.11 264.48L392.56 262.67L391.13 261.47L392.99 261.33Z" fill="#ff0000" stroke="#ff0000" stroke-width="0.5"/>
<path d="M395.40 277.10L396.11 278.83L397.97 278.97L396.54 280.17L396.99 281.98L395.40 281.00L393.81 281.98L394.26 280.17L392.83 278.97L394.69 278.83Z" fill="#ff0000" stroke="#ff0000" stroke-width="0.5"/>
<path d="M383.90 296.30L384.61 298.03L386.47 298.17L385.04 299.37L385.49 301.18L383.90 300.20L382.31 301.18L382.76 299.37L381.33 298.17L383.19 298.03Z" fill="#ff0000" stroke="#ff0000" stroke-width="0.5"/>
<path d="M386.10 307.90L386.81 309.63L388.67 309.77L387.24 310.97L387.69 312.78L386.10 311.80L384.51 312.78L384.96 310.97L383.53 309.77L385.39 309.63Z" fill="#ff0000" stroke="#ff0000" stroke-width="0.5"/>
<path d="M384.30 311.20L385.01 312.93L386.87 313.07L385.44 314.27L385.89 316.08L384.30 315.10L382.71 316.08L383.16 314.27L381.73 313.07L383.59 312.93Z" fill="#ff0000" stroke="#ff0000" stroke-width="0.5"/>
<path d="M388.70 323.70L389.41 325.43L391.27 325.57L389.84 326.77L390.29 328.58L388.70 327.60L387.11 328.58L387.56 326.77L386.13 325.57L387.99 325.43Z" fill="#ff0000" stroke="#ff0000" stroke-width="0.5"/>
<path d="M386.00 328.50L386.71 330.23L388.57 330.37L387.14 331.57L387.59 333.38L386.00 332.40L384.41 333.38L384.86 331.57L383.43 330.37L385.29 330.23Z" fill="#ff0000" stroke="#ff0000" stroke-width="0.5"/>
<path d="M391.80 335.30L392.51 337.03L394.37 337.17L392.94 338.37L393.39 340.18L391.80 339.20L390.21 340.18L390.66 338.37L389.23 337.17L391.09 337.03Z" fill="#ff0000" stroke="#ff0000" stroke-width="0.5"/>
<path d="M391.10 337.90L391.81 339.63L393.67 339.77L392.24 340.97L392.69 342.78L391.10 341.80L389.51 342.78L389.96 340.97L388.53 339.77L390.39 339.63Z" fill="#ff0000" stroke="#ff0000" stroke-width="0.5"/>
<path d="M393.10 340.50L393.81 342.23L395.67 342.37L394.24 343.57L394.69 345.38L393.10 344.40L391.51 345.38L391.96 343.57L390.53 342.37L392.39 342.23Z" fill="#ff0000" stroke="#ff0000" stroke-width="0.5"/>
<path d="M395.00 341.80L395.71 343.53L397.57 343.67L396.14 344.87L396.59 346.68L395.00 345.70L393.41 346.68L393.86 344.87L392.43 343.67L394.29 343.53Z" fill="#ff0000" stroke="#ff0000" stroke-width="0.5"/>
<path d="M392.40 344.30L393.11 346.03L394.97 346.17L393.54 347.37L393.99 349.18L392.40 348.20L390.81 349.18L391.26 347.37L389.83 346.17L391.69 346.03Z" fill="#ff0000" stroke="#ff0000" stroke-width="0.5"/>
<path d="M398.20 347.60L398.91 349.33L400.77 349.47L399.34 350.67L399.79 352.48L398.20 351.50L396.61 352.48L397.06 350.67L395.63 349.47L397.49 349.33Z" fill="#ff0000" stroke="#ff0000" stroke-width="0.5"/>
<path d="M394.40 348.20L395.11 349.93L396.97 350.07L395.54 351.27L395.99 353.08L394.40 352.10L392.81 353.08L393.26 351.27L391.83 350.07L393.69 349.93Z" fill="#ff0000" stroke="#ff0000" stroke-width="0.5"/>
<path d="M391.10 353.30L391.81 355.03L393.67 355.17L392.24 356.37L392.69 358.18L391.10 357.20L389.51 358.18L389.96 356.37L388.53 355.17L390.39 355.03Z" fill="#ff0000" stroke="#ff0000" stroke-width="0.5"/>
<path d="M396.30 353.30L397.01 355.03L398.87 355.17L397.44 356.37L397.89 358.18L396.30 357.20L394.71 358.18L395.16 356.37L393.73 355.17L395.59 355.03Z" fill="#ff0000" stroke="#ff0000" stroke-width="0.5"/>
<path d="M399.50 354.60L400.21 356.33L402.07 356.47L400.64 357.67L401.09 359.48L399.50 358.50L397.91 359.48L398.36 357.67L396.93 356.47L398.79 356.33Z" fill="#ff0000" stroke="#ff0000" stroke-width="0.5"/>
<path d="M395.00 357.20L395.71 358.93L397.57 359.07L396.14 360.27L396.59 362.08L395.00 361.10L393.41 362.08L393.86 360.27L392.43 359.07L394.29 358.93Z" fill="#ff0000" stroke="#ff0000" stroke-width="0.5"/>
<path d="M393.10 360.40L393.81 362.13L395.67 362.27L394.24 363.47L394.69 365.28L393.10 364.30L391.51 365.28L391.96 363.47L390.53 362.27L392.39 362.13Z" fill="#ff0000" stroke="#ff0000" stroke-width="0.5"/>
<path d="M400.20 361.70L400.91 363.43L402.77 363.57L401.34 364.77L401.79 366.58L400.20 365.60L398.61 366.58L399.06 364.77L397.63 363.57L399.49 363.43Z" fill="#ff0000" stroke="#ff0000" stroke-width="0.5"/>
<path d="M396.90 363.60L397.61 365.33L399.47 365.47L398.04 366.67L398.49 368.48L396.90 367.50L395.31 368.48L395.76 366.67L394.33 365.47L396.19 365.33Z" fill="#ff0000" stroke="#ff0000" stroke-width="0.5"/>
<path d="M393.70 366.20L394.41 367.93L396.27 368.07L394.84 369.27L395.29 371.08L393.70 370.10L392.11 371.08L392.56 369.27L391.13 368.07L392.99 367.93Z" fill="#ff0000" stroke="#ff0000" stroke-width="0.5"/>
<path d="M397.60 367.50L398.31 369.23L400.17 369.37L398.74 370.57L399.19 372.38L397.60 371.40L396.01 372.38L396.46 370.57L395.03 369.37L396.89 369.23Z" fill="#ff0000" stroke="#ff0000" stroke-width="0.5"/>
<path d="M394.40 370.10L395.11 371.83L396.97 371.97L395.54 373.17L395.99 374.98L394.40 374.00L392.81 374.98L393.26 373.17L391.83 371.97L393.69 371.83Z" fill="#ff0000" stroke="#ff0000" stroke-width="0.5"/>
<path d="M396.30 372.00L397.01 373.73L398.87 373.87L397.44 375.07L397.89 376.88L396.30 375.90L394.71 376.88L395.16 375.07L393.73 373.87L395.59 373.73Z" fill="#ff0000" stroke="#ff0000" stroke-width="0.5"/>
<path d="M405.90 375.90L406.61 377.63L408.47 377.77L407.04 378.97L407.49 380.78L405.90 379.80L404.31 380.78L404.76 378.97L403.33 377.77L405.19 377.63Z" fill="#ff0000" stroke="#ff0000" stroke-width="0.5"/>
<path d="M407.90 379.10L408.61 380.83L410.47 380.97L409.04 382.17L409.49 383.98L407.90 383.00L406.31 383.98L406.76 382.17L405.33 380.97L407.19 380.83Z" fill="#ff0000" stroke="#ff0000" stroke-width="0.5"/>
<path d="M412.40 382.90L413.11 384.63L414.97 384.77L413.54 385.97L413.99 387.78L412.40 386.80L410.81 387.78L411.26 385.97L409.83 384.77L411.69 384.63Z" fill="#ff0000" stroke="#ff0000" stroke-width="0.5"/>
<rect x="348" y="240.7" width="232.00" height="182.70" fill="none" stroke="#000" stroke-width="1.3"/>
<text x="348.00" y="440.40" text-anchor="middle">0</text>
<text x="394.40" y="440.40" text-anchor="middle">0.5</text>
<text x="440.80" y="440.40" text-anchor="middle">1</text>
<text x="487.20" y="440.40" text-anchor="middle">1.5</text>
<text x="533.60" y="440.40" text-anchor="middle">2</text>
<text x="580.00" y="440.40" text-anchor="middle">2.5</text>
<text x="344.00" y="428.70" text-anchor="end">0.5</text>
<text x="344.00" y="383.02" text-anchor="end">1</text>
<text x="344.00" y="337.35" text-anchor="end">1.5</text>
<text x="344.00" y="291.68" text-anchor="end">2</text>
<text x="344.00" y="246.00" text-anchor="end">2.5</text>
<path d="M348.00 423.4V421.09999999999997M348.00 240.7V243.0M394.40 423.4V421.09999999999997M394.40 240.7V243.0M440.80 423.4V421.09999999999997M440.80 240.7V243.0M487.20 423.4V421.09999999999997M487.20 240.7V243.0M533.60 423.4V421.09999999999997M533.60 240.7V243.0M580.00 423.4V421.09999999999997M580.00 240.7V243.0M348 423.40H350.3M580 423.40H577.7M348 377.72H350.3M580 377.72H577.7M348 332.05H350.3M580 332.05H577.7M348 286.38H350.3M580 286.38H577.7M348 240.70H350.3M580 240.70H577.7" stroke="#000" stroke-width="1.3" fill="none"/>
<text x="165.7" y="222.1" text-anchor="middle">Salinity</text>
<text x="464" y="222.1" text-anchor="middle">Salinity</text>
<text x="165.7" y="462.7" text-anchor="middle">Salinity</text>
<text x="464" y="462.7" text-anchor="middle">DOC (mg–C/L)</text>
<text transform="translate(14.2 97) rotate(-90)" text-anchor="middle" font-size="15.2">DOC (mg–C/L)</text>
<text transform="translate(316.3 97.5) rotate(-90)" text-anchor="middle" font-size="15.2">a<tspan font-size="11.5" dy="6.5">254</tspan><tspan dy="-6.5"> (m</tspan><tspan font-size="11" dy="-7.8" dx="-1.2">–1</tspan><tspan dy="7.8">)</tspan></text>
<text transform="translate(15 333.6) rotate(-90)" text-anchor="middle" font-size="15.2">SUVA<tspan font-size="11" dy="5">254</tspan><tspan dy="-5"> (m</tspan><tspan font-size="11" dy="-7" dx="-1.5">2</tspan><tspan dy="7">/g–C)</tspan></text>
<text transform="translate(314.5 333.6) rotate(-90)" text-anchor="middle" font-size="15.2">SUVA<tspan font-size="11" dy="5">254</tspan><tspan dy="-5"> (m</tspan><tspan font-size="11" dy="-7" dx="-1.5">2</tspan><tspan dy="7">/g–C)</tspan></text>
<rect x="454.5" y="17.3" width="114.3" height="58.7" fill="#fff" stroke="#555" stroke-width="1"/>
<g transform="translate(470.3 25.20) scale(1.55)"><path d="M0.00 -3.05L2.20 0.00L0.00 3.05L-2.20 0.00Z" fill="#00ff00" stroke="#00ff00" stroke-width="0.5"/></g>
<text x="484" y="29.40" font-size="12.5">Surface</text>
<g transform="translate(469.6 39.53) scale(1.55)"><path d="M-2.50 0.00L2.40 -2.70L2.40 2.70Z" fill="#8800ff" stroke="#8800ff" stroke-width="0.5"/></g>
<text x="484" y="43.63" font-size="12.5">Shallow Bottom</text>
<g transform="translate(470.4 52.86) scale(1.55)"><path d="M0.00 -2.50L2.60 2.30L-2.60 2.30Z" fill="#00ffff" stroke="#00ffff" stroke-width="0.5"/></g>
<text x="484" y="57.86" font-size="12.5">Chla Max</text>
<g transform="translate(470.3 67.69) scale(1.55)"><path d="M0.00 -2.70L0.71 -0.97L2.57 -0.83L1.14 0.37L1.59 2.18L0.00 1.20L-1.59 2.18L-1.14 0.37L-2.57 -0.83L-0.71 -0.97Z" fill="#ff0000" stroke="#ff0000" stroke-width="0.5"/></g>
<text x="484" y="72.09" font-size="12.5">Deep Anomaly</text>
</svg></body></html>
